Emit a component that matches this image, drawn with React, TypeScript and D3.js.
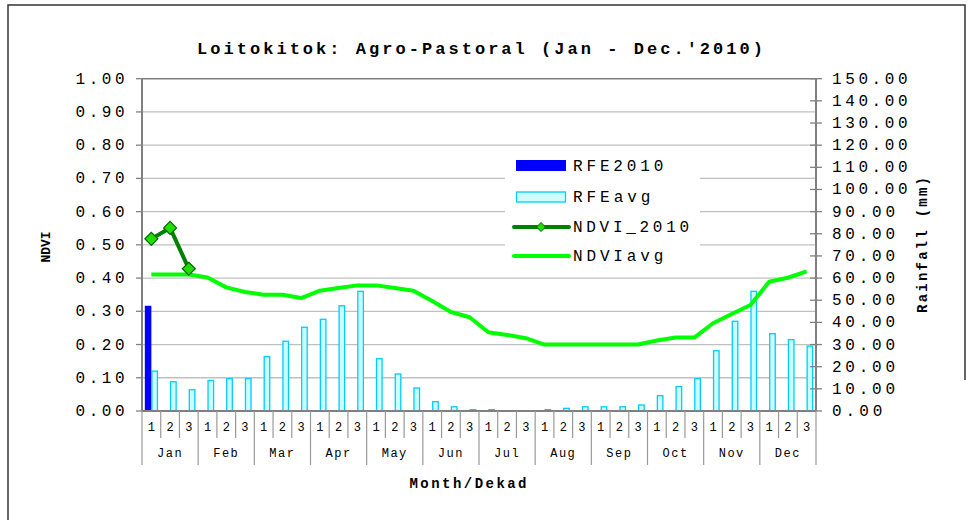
import React from 'react';
import * as d3 from 'd3';

const months = ['Jan', 'Feb', 'Mar', 'Apr', 'May', 'Jun', 'Jul', 'Aug', 'Sep', 'Oct', 'Nov', 'Dec'];
const dekads = ['1', '2', '3'];
const categories = months.flatMap((m) => dekads.map((d) => `${m}-${d}`));

const rfe2010: (number | null)[] = [47.5, ...Array(35).fill(null)];
const rfeAvg = [
  18.0, 13.2, 9.6, 13.8, 14.6, 14.6, 24.5, 31.5, 37.8, 41.4, 47.5, 54.0,
  23.6, 16.7, 10.4, 4.2, 1.9, 0.6, 0.6, 0, 0, 0.6, 1.2, 1.9,
  1.9, 1.9, 2.7, 6.9, 11.0, 14.6, 27.2, 40.5, 54.0, 34.9, 32.2, 29.3,
];
const ndvi2010: (number | null)[] = [0.518, 0.551, 0.428, ...Array(33).fill(null)];
const ndviAvg = [
  0.411, 0.411, 0.411, 0.402, 0.372, 0.358, 0.350, 0.350, 0.340, 0.362, 0.370, 0.378,
  0.378, 0.370, 0.362, 0.331, 0.298, 0.282, 0.237, 0.229, 0.219, 0.200, 0.200, 0.200,
  0.200, 0.200, 0.200, 0.212, 0.221, 0.221, 0.264, 0.292, 0.319, 0.389, 0.401, 0.420,
];
const leftTicks = [0, 0.1, 0.2, 0.3, 0.4, 0.5, 0.6, 0.7, 0.8, 0.9, 1.0];
const rightTicks = d3.range(0, 151, 10);
const legendItems = ['RFE2010', 'RFEavg', 'NDVI_2010', 'NDVIavg'];

const W = 969;
const H = 520;
const L = 142;
const R = 816;
const T = 78.7;
const B = 411;
const FONT = "'Liberation Mono', 'Courier New', monospace";

export default function App() {
  const x = d3.scaleBand<string>().domain(categories).range([L, R]).paddingInner(0).paddingOuter(0);
  const bw = x.bandwidth();
  const sub = d3.scaleBand<string>().domain(['RFE2010', 'RFEavg']).range([0, bw]).paddingInner(0).paddingOuter(0.43);
  const yL = d3.scaleLinear().domain([0, 1]).range([B, T]);
  const yR = d3.scaleLinear().domain([0, 150]).range([B, T]);
  const cx = (i: number) => (x(categories[i]) as number) + bw / 2;

  const avgLine = d3.line<number>().x((_, i) => cx(i)).y((d) => yL(d)).curve(d3.curveLinear)(ndviAvg) || '';
  const ndviLine =
    d3
      .line<number | null>()
      .defined((d) => d != null)
      .x((_, i) => cx(i))
      .y((d) => yL(d as number))(ndvi2010) || '';

  const diamond = (px: number, py: number, r: number) => `M${px},${py - r}L${px + r},${py}L${px},${py + r}L${px - r},${py}Z`;

  const txt = (s: string, n: number) => n * s.length;

  return (
    <svg width={W} height={H} style={{ position: 'absolute', left: 0, top: 0, background: '#fff' }} fontFamily={FONT}>
      <rect x={0} y={0} width={W} height={H} fill="#fff" />
      <path d={`M8,${H}V5H965V380`} fill="none" stroke="#333" strokeWidth={1.5} />

      <text x={480} y={54} textAnchor="middle" fontSize={17} fontWeight="bold" textLength={566} lengthAdjust="spacing">
        Loitokitok: Agro-Pastoral (Jan - Dec.'2010)
      </text>

      {/* gridlines */}
      {leftTicks.slice(1, 10).map((t) => (
        <line key={'g' + t} x1={L} x2={R} y1={yL(t)} y2={yL(t)} stroke="#c0c0c0" strokeWidth={1.3} />
      ))}
      <line x1={L} x2={R} y1={T} y2={T} stroke="#808080" strokeWidth={1.5} />

      {/* bars */}
      {categories.map((c, i) => (
        <g key={'b' + c}>
          {rfe2010[i] != null && (
            <rect
              x={(x(c) as number) + (sub('RFE2010') as number)}
              y={yR(rfe2010[i] as number)}
              width={sub.bandwidth()}
              height={B - yR(rfe2010[i] as number)}
              fill="#0000ff"
            />
          )}
          {rfeAvg[i] > 0 && (
            <rect
              x={(x(c) as number) + (sub('RFEavg') as number) + 0.5}
              y={yR(rfeAvg[i])}
              width={sub.bandwidth() - 1}
              height={B - yR(rfeAvg[i])}
              fill="#ccffff"
              stroke="#00ccff"
              strokeWidth={1.3}
            />
          )}
        </g>
      ))}

      {/* lines */}
      <path d={avgLine} fill="none" stroke="#00ff00" strokeWidth={4} strokeLinejoin="round" />
      <path d={ndviLine} fill="none" stroke="#008000" strokeWidth={4} strokeLinejoin="round" />
      {ndvi2010.map((v, i) =>
        v == null ? null : (
          <path key={'m' + i} d={diamond(cx(i), yL(v), 6.5)} fill="#22dd00" stroke="#006600" strokeWidth={1.2} />
        )
      )}

      {/* left axis */}
      <line x1={L} x2={L} y1={T} y2={B} stroke="#808080" strokeWidth={2} />
      {leftTicks.map((t) => (
        <g key={'lt' + t}>
          <line x1={L - 6} x2={L} y1={yL(t)} y2={yL(t)} stroke="#808080" strokeWidth={1.3} />
          <text x={124.5} y={yL(t) + 5} textAnchor="end" fontSize={16} textLength={49} lengthAdjust="spacing">
            {t.toFixed(2)}
          </text>
        </g>
      ))}

      {/* right axis */}
      <line x1={R} x2={R} y1={T} y2={B} stroke="#808080" strokeWidth={2} />
      {rightTicks.map((t) => (
        <g key={'rt' + t}>
          <line x1={R - 6} x2={R + 6} y1={yR(t)} y2={yR(t)} stroke="#808080" strokeWidth={1.3} />
          <text x={832} y={yR(t) + 5} textAnchor="start" fontSize={16} textLength={txt(t.toFixed(2), 12.6)} lengthAdjust="spacing">
            {t.toFixed(2)}
          </text>
        </g>
      ))}

      {/* bottom axis */}
      <line x1={L} x2={R} y1={B} y2={B} stroke="#808080" strokeWidth={2} />
      {categories.map((c, i) => (
        <g key={'xc' + c}>
          <line
            x1={x(c) as number}
            x2={x(c) as number}
            y1={B}
            y2={i % 3 === 0 ? 465 : 438}
            stroke="#999"
            strokeWidth={1.2}
          />
          <text x={cx(i)} y={431} textAnchor="middle" fontSize={12}>
            {dekads[i % 3]}
          </text>
        </g>
      ))}
      <line x1={R} x2={R} y1={B} y2={465} stroke="#999" strokeWidth={1.2} />
      {months.map((m, j) => (
        <text
          key={'mo' + m}
          x={((x(categories[j * 3]) as number) + (x(categories[j * 3 + 2]) as number) + bw) / 2}
          y={457}
          textAnchor="middle"
          fontSize={12}
          letterSpacing={1.5}
        >
          {m}
        </text>
      ))}

      {/* axis titles */}
      <text x={468} y={488} textAnchor="middle" fontSize={14} fontWeight="bold" textLength={117} lengthAdjust="spacing">
        Month/Dekad
      </text>
      <text transform="translate(50,247) rotate(-90)" textAnchor="middle" fontSize={13} fontWeight="bold">
        NDVI
      </text>
      <text
        transform="translate(927,245) rotate(-90)"
        textAnchor="middle"
        fontSize={14}
        fontWeight="bold"
        textLength={136}
        lengthAdjust="spacing"
      >
        Rainfall (mm)
      </text>

      {/* legend */}
      <rect x={505} y={148} width={195} height={122} fill="#fff" />
      {legendItems.map((name, k) => {
        const ly = [165.5, 197, 227, 256][k];
        return (
          <g key={'lg' + name}>
            {k === 0 && <rect x={516} y={160} width={50} height={11} fill="#0000ff" />}
            {k === 1 && <rect x={516.5} y={192} width={49} height={10} fill="#ccffff" stroke="#00ccff" strokeWidth={1.3} />}
            {k === 2 && (
              <g>
                <line x1={514} x2={569} y1={ly} y2={ly} stroke="#008000" strokeWidth={4} strokeLinecap="round" />
                <path d={diamond(541, ly, 4.5)} fill="#22dd00" stroke="#006600" strokeWidth={1} />
              </g>
            )}
            {k === 3 && <line x1={514} x2={569} y1={ly} y2={ly} stroke="#00ff00" strokeWidth={4} strokeLinecap="round" />}
            <text x={573} y={ly + 5} fontSize={16} textLength={txt(name, 12.9)} lengthAdjust="spacing">
              {name}
            </text>
          </g>
        );
      })}
    </svg>
  );
}
